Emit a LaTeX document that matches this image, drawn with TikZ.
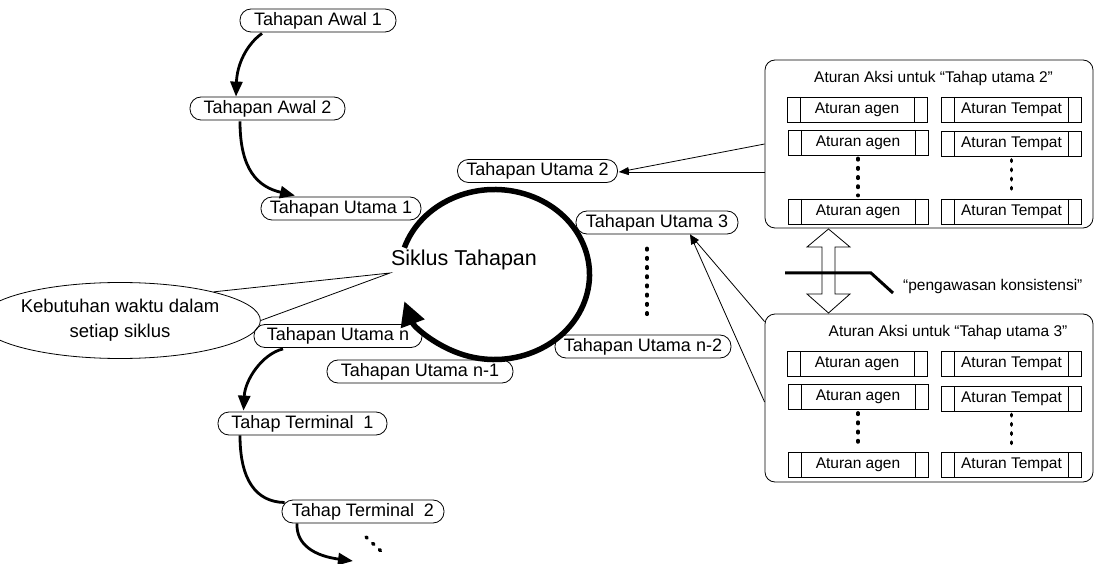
\documentclass[tikz,border=0pt]{standalone}
\usepackage{fontspec}
\setmainfont{Liberation Sans}
\usetikzlibrary{arrows.meta,shapes.geometric,calc}
\begin{document}
\begin{tikzpicture}[x=1pt,y=-1pt,
  stage/.style={draw,line width=0.8pt,rounded corners=11pt,minimum height=23pt,inner sep=1pt,font=\fontsize{18}{20}\selectfont},
  flow/.style={line width=2.8pt,-{Triangle[length=15pt,width=12pt]}},
  flowplain/.style={line width=2.8pt},
  dotline/.style={line width=3.5pt,line cap=round,dash pattern=on 1.5pt off 7.7pt},
  rulebox/.style={draw,line width=0.8pt,minimum width=140pt,minimum height=25pt,inner sep=0pt,font=\fontsize{15.5}{18}\selectfont,
    path picture={\draw[line width=0.8pt] ([xshift=13pt]path picture bounding box.north west) -- ([xshift=13pt]path picture bounding box.south west)
      ([xshift=-13pt]path picture bounding box.north east) -- ([xshift=-13pt]path picture bounding box.south east);}},
  bigbox/.style={draw,line width=0.8pt,rounded corners=10pt,minimum width=328pt,minimum height=168pt,inner sep=0pt},
  boxtitle/.style={font=\fontsize{15.5}{18}\selectfont,inner sep=0pt},
  thinarrow/.style={line width=0.8pt,-{Triangle[length=10pt,width=6pt]}},
  thinline/.style={line width=0.8pt},
]
\useasboundingbox (0,0) rectangle (1098,564);

% stage nodes
\node[stage,minimum width=156pt] (a1) at (318,20.5) {Tahapan Awal 1};
\node[stage,minimum width=155pt] (a2) at (267.5,108.5) {Tahapan Awal 2};
\node[stage,minimum width=160pt] (u1) at (341,208.5) {Tahapan Utama 1};
\node[stage,minimum width=160pt] (u2) at (537.5,171) {Tahapan Utama 2};
\node[stage,minimum width=162pt] (u3) at (657,222.5) {Tahapan Utama 3};
\node[stage,minimum width=176pt] (un2) at (643,346.5) {Tahapan Utama n-2};
\node[stage,minimum width=186pt] (un1) at (420,371.5) {Tahapan Utama n-1};
\node[stage,minimum width=168pt] (un) at (338,336) {Tahapan Utama n};
\node[stage,minimum width=169pt] (t1) at (302.5,423.5) {Tahap Terminal\ \ 1};
\node[stage,minimum width=162pt] (t2) at (363,511.5) {Tahap Terminal\ \ 2};

% cycle
\coordinate (cc) at (494.5,274.5);
\node[font=\fontsize{21.5}{24}\selectfont,inner sep=0pt] (sik) at (464,260) {Siklus Tahapan};
\draw[line width=5.5pt,-{Triangle[length=24pt,width=24pt]}]
  ($(cc)+(-161.6:95 and 85)$) arc[start angle=-161.6,end angle=161.6,x radius=95,y radius=85];

% callout ellipse
\node[draw,ellipse,line width=0.8pt,minimum width=224pt,minimum height=76pt,inner sep=0pt,align=center,
  font=\fontsize{18.5}{25}\selectfont] (ell) at (120,320.5) {Kebutuhan waktu dalam\\setiap siklus};
\coordinate (cp) at (390,273);
\draw[thinline] (ell.17) -- (cp) -- (ell.east);

% flow curves
\draw[flow] ($(a1.south)+(-56,1)$) .. controls (246,45) and (237,65) .. (a2.north -| 236,0);
\draw[flow] ($(a2.south)+(-27.5,1)$) .. controls (240,170) and (258,187) .. ($(u1.north)+(-46,-1)$);
\draw[flow] ($(un.south)+(-55,1)$) .. controls (262,354) and (245,380) .. ($(t1.north)+(-59,-1)$);
\draw[flowplain] ($(t1.south)+(-62.5,0)$) .. controls (240,480) and (256,502) .. ($(t2.west)+(3,-9)$);
\coordinate (tend) at (353,561);
\draw[flow] ($(t2.south)+(-66,0)$) .. controls (296,545) and (315,556) .. (tend);
\coordinate (d1) at (366,537);
\coordinate (d2) at (383,553);
\draw[dotline] (d1) -- (d2);

% vertical dots between Utama 3 and n-2
\draw[dotline] ($(u3.south)+(-10,14)$) -- ($(un2.north)+(4,-13)$);

% rule boxes
\node[bigbox] (box1) at (929,144) {};
\node[bigbox] (box2) at (929,398) {};
\node[boxtitle] (tt1) at (933.5,78) {Aturan Aksi untuk “Tahap utama 2”};
\node[boxtitle] (tt2) at (948,332) {Aturan Aksi untuk “Tahap utama 3”};

\node[rulebox] (ag11) at (857,109.5) {Aturan agen};
\node[rulebox] (tp11) at (1011.5,109.5) {Aturan Tempat};
\node[rulebox] (ag12) at (858,142.5) {Aturan agen};
\node[rulebox] (tp12) at (1011.5,144) {Aturan Tempat};
\node[rulebox] (ag13) at (858,211.5) {Aturan agen};
\node[rulebox] (tp13) at (1011.5,211.5) {Aturan Tempat};
\draw[dotline] ($(ag12.south)+(0,3)$) -- ($(ag13.north)+(0,-3)$);
\draw[dotline] ($(tp12.south)+(0,3)$) -- ($(tp13.north)+(0,-3)$);

\node[rulebox] (ag21) at (857,364) {Aturan agen};
\node[rulebox] (tp21) at (1011.5,364) {Aturan Tempat};
\node[rulebox] (ag22) at (858,397) {Aturan agen};
\node[rulebox] (tp22) at (1011.5,398.5) {Aturan Tempat};
\node[rulebox] (ag23) at (858,465) {Aturan agen};
\node[rulebox] (tp23) at (1011.5,465) {Aturan Tempat};
\draw[dotline] ($(ag22.south)+(0,3)$) -- ($(ag23.north)+(0,-3)$);
\draw[dotline] ($(tp22.south)+(0,3)$) -- ($(tp23.north)+(0,-3)$);

% arrows from boxes to stages
\draw[thinarrow] (box1.west) -- ($(u2.east)+(1,1)$);
\draw[thinarrow] ($(box1.west)+(0,28)$) -- ($(u2.east)+(1,1)$);
\draw[thinarrow] ($(box2.north west)+(0,8)$) -- ($(u3.south)+(33,0)$);
\draw[thinarrow] ($(box2.west)+(0,4)$) -- ($(u3.south)+(33,0)$);

% double block arrow
\draw[line width=0.8pt] (828.5,229) -- (850,247) -- (835,247) -- (835,294) -- (850,294) -- (828.5,313)
  -- (807,294) -- (822,294) -- (822,247) -- (807,247) -- cycle;

% consistency check line
\coordinate (k1) at (785,273);
\coordinate (k2) at (871,273);
\coordinate (k3) at (893,293);
\draw[line width=3pt] (k1) -- (k2) -- (k3);
\node[font=\fontsize{15.5}{18}\selectfont,anchor=west,inner sep=0pt] (kt) at (903,286) {“pengawasan konsistensi”};
\end{tikzpicture}
\end{document}
